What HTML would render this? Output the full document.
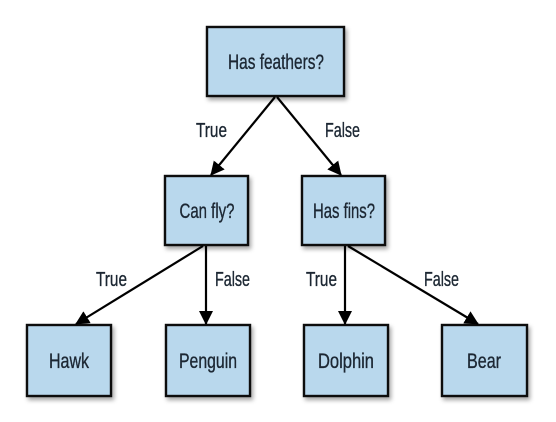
<!DOCTYPE html>
<html><head><meta charset="utf-8"><style>
html,body{margin:0;padding:0;background:#fff;width:556px;height:422px;overflow:hidden}
text{font-family:"Liberation Sans",sans-serif;fill:#1c2733;stroke:#1c2733;stroke-width:0.35}
</style></head><body>
<svg width="556" height="422" viewBox="0 0 556 422" xmlns="http://www.w3.org/2000/svg">
<defs>
<marker id="a" markerWidth="14" markerHeight="14" refX="13" refY="7" orient="auto" markerUnits="userSpaceOnUse">
<path d="M0,0 L14,7 L0,14 z" fill="#000"/>
</marker>
<filter id="s" x="-20%" y="-20%" width="150%" height="150%"><feDropShadow dx="2" dy="3" stdDeviation="2" flood-color="#000" flood-opacity="0.35"/></filter>
</defs>
<g fill="#b9d8ed" stroke="#0d0d0d" stroke-width="2.4" filter="url(#s)">
<rect x="207" y="27" width="137" height="69"/>
<rect x="165" y="176" width="83" height="69"/>
<rect x="302" y="176" width="83" height="69"/>
<rect x="27" y="325" width="84" height="71"/>
<rect x="166" y="325" width="84" height="71"/>
<rect x="304" y="325" width="84" height="71"/>
<rect x="442" y="325" width="85" height="71"/>
</g>
<g stroke="#000" stroke-width="2.2" fill="none" marker-end="url(#a)">
<line x1="275" y1="97" x2="211" y2="175"/>
<line x1="277" y1="97" x2="341" y2="175"/>
<line x1="203" y1="246" x2="76" y2="324"/>
<line x1="206" y1="246" x2="206" y2="324"/>
<line x1="345" y1="246" x2="345" y2="324"/>
<line x1="348" y1="246" x2="478" y2="324"/>
</g>
<g font-size="21" text-anchor="middle">
<text x="276" y="69" textLength="96" lengthAdjust="spacingAndGlyphs">Has feathers?</text>
<text x="207" y="218" textLength="55" lengthAdjust="spacingAndGlyphs">Can fly?</text>
<text x="344" y="218" textLength="62" lengthAdjust="spacingAndGlyphs">Has fins?</text>
<text x="69" y="368" textLength="40" lengthAdjust="spacingAndGlyphs">Hawk</text>
<text x="208" y="368" textLength="58" lengthAdjust="spacingAndGlyphs">Penguin</text>
<text x="346" y="368" textLength="56" lengthAdjust="spacingAndGlyphs">Dolphin</text>
<text x="484" y="368" textLength="34" lengthAdjust="spacingAndGlyphs">Bear</text>
</g>
<g font-size="20">
<text x="196" y="137" textLength="31" lengthAdjust="spacingAndGlyphs">True</text>
<text x="325" y="137" textLength="35" lengthAdjust="spacingAndGlyphs">False</text>
<text x="96" y="286" textLength="31" lengthAdjust="spacingAndGlyphs">True</text>
<text x="215" y="286" textLength="35" lengthAdjust="spacingAndGlyphs">False</text>
<text x="306" y="286" textLength="31" lengthAdjust="spacingAndGlyphs">True</text>
<text x="424" y="286" textLength="35" lengthAdjust="spacingAndGlyphs">False</text>
</g>
</svg>
</body></html>
